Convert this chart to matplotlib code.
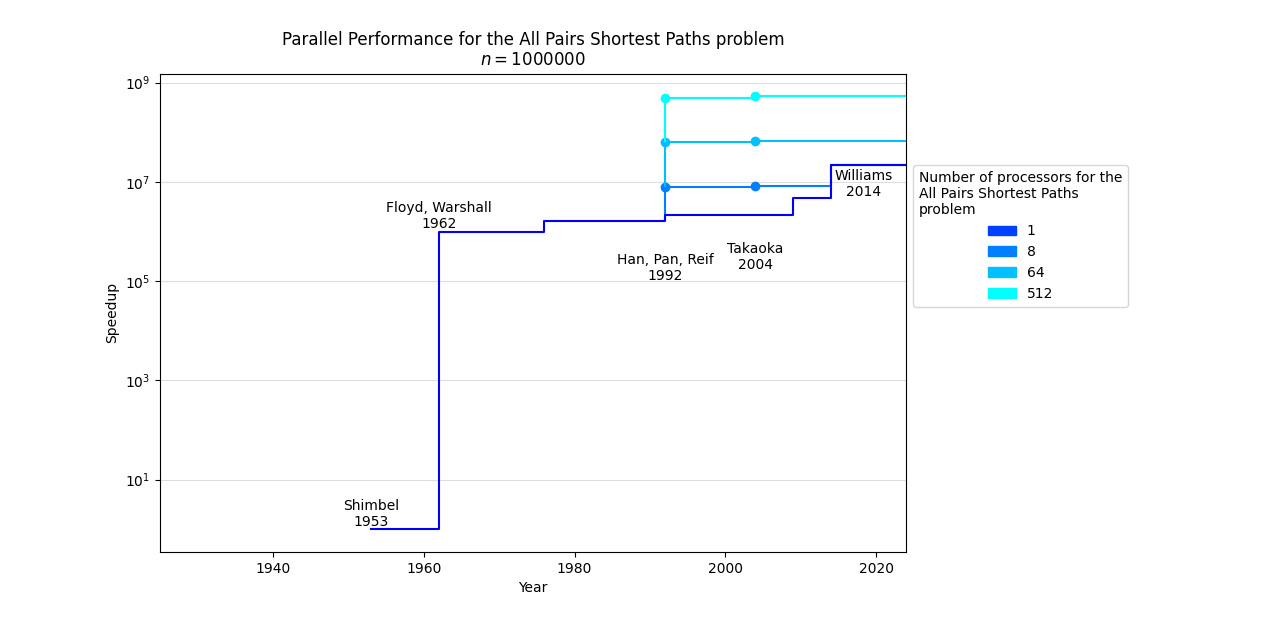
import matplotlib
matplotlib.use("Agg")
import matplotlib.pyplot as plt
import matplotlib.patches as mpatches

# ==========================================
# Données
# ==========================================
seq_years = [1953, 1962, 1976, 1992, 2009, 2014]
seq_speedup = [1.0, 9.8e5, 1.6e6, 2.15e6, 4.8e6, 2.2e7]

par_years = [1992, 2004]
par_procs = [8, 64, 512]
par_speedup = {
    8: [7.9e6, 8.3e6],
    64: [6.3e7, 6.7e7],
    512: [4.9e8, 5.4e8],
}

legend_procs = ["1", "8", "64", "512"]
legend_colors = ["#0040ff", "#0080ff", "#00c0ff", "#00ffff"]
par_colors = {8: "#0080ff", 64: "#00c0ff", 512: "#00ffff"}
seq_color = "#0000ff"

labels = [
    ("Shimbel\n1953", 1953, 2.0),
    ("Floyd, Warshall\n1962", 1962, 2.05e6),
    ("Han, Pan, Reif\n1992", 1992, 1.85e5),
    ("Takaoka\n2004", 2004, 3.1e5),
    ("Williams\n2014", 2018.3, 9.1e6),
]

x_min, x_max = 1925, 2024

# ==========================================
# Graphe
# ==========================================
fig = plt.figure(figsize=(12.8, 6.2), dpi=100)
ax = fig.add_axes([0.125, 0.11, 0.583, 0.771])
ax.set_yscale("log")
ax.grid(True, axis="y", color="#dddddd", linewidth=0.8)
ax.set_axisbelow(True)

prev = None
for p in par_procs:
    xs = list(par_years)
    ys = list(par_speedup[p])
    # la courbe parallèle rejoint la séquentielle si celle-ci devient meilleure
    for yr, sp in zip(seq_years, seq_speedup):
        if yr > xs[-1] and sp > ys[-1]:
            xs.append(yr)
            ys.append(sp)
    xs.append(x_max)
    ys.append(ys[-1])
    # trait vertical depuis le niveau inférieur
    if prev is None:
        base = max(sp for yr, sp in zip(seq_years, seq_speedup) if yr < par_years[0])
    else:
        base = prev
    ax.vlines(par_years[0], base, ys[0], color=par_colors[p], linewidth=1.5)
    ax.step(xs, ys, where="post", color=par_colors[p], linewidth=1.5)
    ax.plot(par_years, par_speedup[p], "o", color=par_colors[p], markersize=6)
    prev = ys[0]

ax.step(seq_years + [x_max], seq_speedup + [seq_speedup[-1]], where="post",
        color=seq_color, linewidth=1.5, zorder=3)

for txt, x, y in labels:
    ax.text(x, y, txt, ha="center", va="center", fontsize=10)

ax.set_xlim(x_min, x_max)
ax.set_ylim(0.35, 1.5e9)
ax.set_xticks([1940, 1960, 1980, 2000, 2020])
ax.set_yticks([1e1, 1e3, 1e5, 1e7, 1e9])
ax.minorticks_off()
ax.set_xlabel("Year")
ax.set_ylabel("Speedup")
ax.set_title("Parallel Performance for the All Pairs Shortest Paths problem\n$n = 1000000$")

handles = [mpatches.Patch(color=c, label=l) for c, l in zip(legend_colors, legend_procs)]
leg = ax.legend(handles=handles, loc="upper left", bbox_to_anchor=(1.0, 0.823),
                title="Number of processors for the\nAll Pairs Shortest Paths\nproblem")
leg.get_title().set_multialignment("left")

plt.savefig("out.png", dpi=100)
